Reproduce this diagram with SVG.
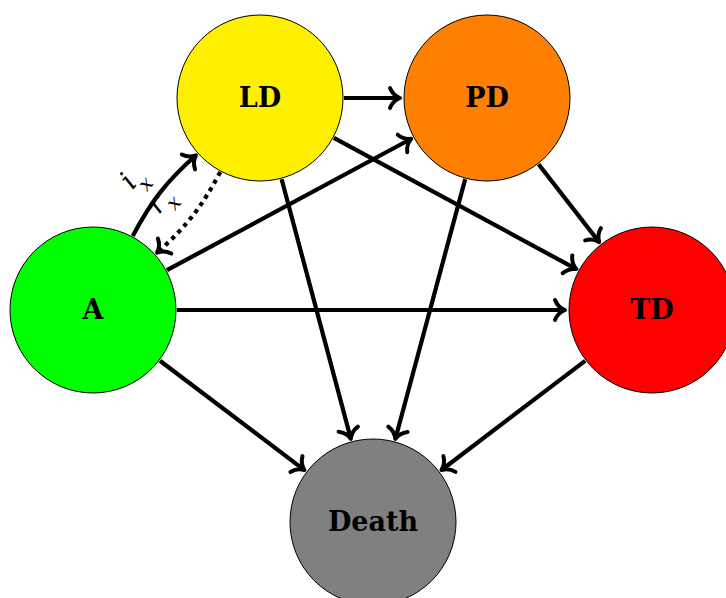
<svg xmlns="http://www.w3.org/2000/svg" width="726" height="598" viewBox="0 0 726 598">
<style>
.node circle{stroke:#000;stroke-width:1}
.node text{font-family:"DejaVu Serif","Liberation Serif",serif;font-weight:bold;font-size:27px;text-anchor:middle;fill:#000}
.edge{fill:none;stroke:#000;stroke-width:4.2;marker-end:url(#tip)}
.dot{stroke-dasharray:4.2 4.6}
.lbl{font-family:"DejaVu Serif","Liberation Serif",serif;font-style:italic;fill:#000;text-anchor:middle}
</style>
<defs>
<marker id="tip" markerUnits="userSpaceOnUse" orient="auto" refX="0" refY="0" markerWidth="30" markerHeight="30" overflow="visible">
<path d="M -10,-10 C -8,-5 -4,-1.5 0,0 C -4,1.5 -8,5 -10,10" fill="none" stroke="#000" stroke-width="4" stroke-linecap="round" stroke-linejoin="round"/>
</marker>
</defs>
<rect width="726" height="598" fill="#fff"/>
<g id="connectors">
<line class="edge" x1="344" y1="98" x2="400" y2="98"/>
<line class="edge" x1="177" y1="310" x2="565" y2="310"/>
<line class="edge" x1="166.97" y1="270.19" x2="411.27" y2="138.76"/>
<line class="edge" x1="159.97" y1="360.71" x2="304.43" y2="470.09"/>
<line class="edge" x1="333.89" y1="137.96" x2="576.35" y2="269.09"/>
<line class="edge" x1="281.63" y1="179.17" x2="350.85" y2="438.9"/>
<line class="edge" x1="538.59" y1="164.29" x2="599.18" y2="242.14"/>
<line class="edge" x1="465.19" y1="179.12" x2="395.33" y2="438.95"/>
<line class="edge" x1="585.12" y1="360.82" x2="441.47" y2="469.97"/>
<path class="edge" d="M 132.7,236 C 151.65,200.66 166,182 195.9,155.3"/>
<path class="edge dot" d="M 220.3,172 C 201.35,207.34 187,226 157.1,252.7"/>
<text class="lbl" x="129" y="190" style="font-size:28px" transform="rotate(-50 129 182)">i</text>
<text class="lbl" x="146" y="190" style="font-size:20px" transform="rotate(-50 146 184)">x</text>
<text class="lbl" x="157" y="213" style="font-size:28px" transform="rotate(-50 157 205)">r</text>
<text class="lbl" x="174" y="209" style="font-size:20px" transform="rotate(-50 174 203)">x</text>
</g>
<g id="A" class="node"><circle cx="93" cy="310" r="83" fill="#00ff00"/><text x="93" y="319">A</text></g>
<g id="LD" class="node"><circle cx="260" cy="98" r="83" fill="#fff000"/><text x="260" y="107">LD</text></g>
<g id="PD" class="node"><circle cx="487" cy="98" r="83" fill="#ff8000"/><text x="487" y="107">PD</text></g>
<g id="TD" class="node"><circle cx="652" cy="310" r="83" fill="#ff0000"/><text x="652" y="319">TD</text></g>
<g id="Death" class="node"><circle cx="373" cy="522" r="83" fill="#808080"/><text x="373" y="531">Death</text></g>
</svg>
